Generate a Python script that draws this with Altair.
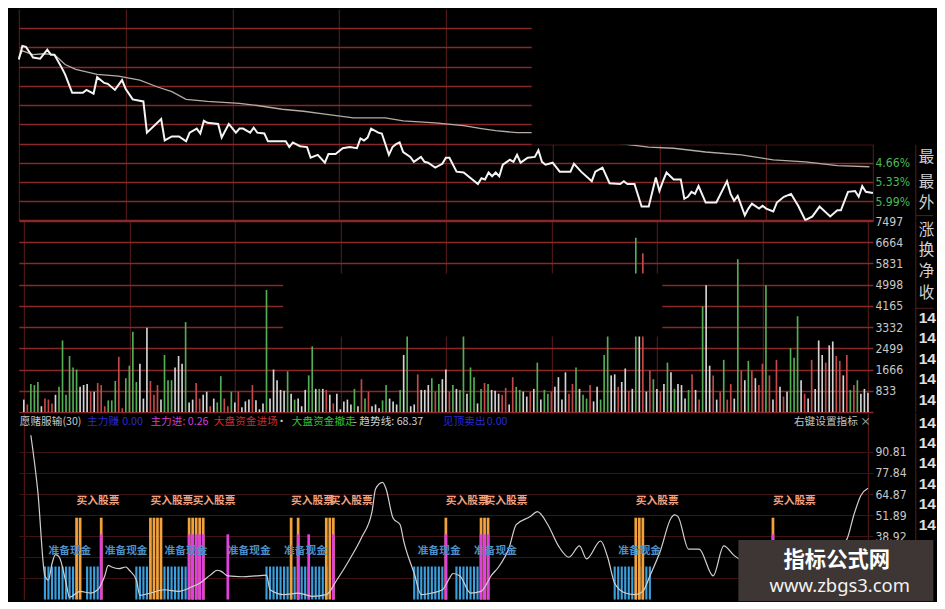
import altair as alt
import pandas as pd

SX, SY = 0.975, 0.97
CJK = "Noto Sans CJK SC"
NARROW = "DejaVu Sans Condensed, Liberation Sans Narrow, Liberation Sans"

# ---------------- data ----------------
PRICE_MIN = [0,1,2,4,6,8,9,10,12,13,15,18,19,21,22,24,25,27,29,30,32,35,36,40,41,43,45,47,48,50,
             51,52,53,56,57,59,61,62,63,65,66,67,69,70,75,76,77,79,81,82,84,86,87,89,91,93,95,96,97,98,
             99,101,102,104,105,106,107,108,110,111,113,114,115,117,119,120,121,123,125,129,130,131,132,133,134,135,136,138,139,140,
             141,143,145,146,147,148,150,152,155,156,158,161,162,164,166,169,170,171,173,175,177,179,180,181,182,184,186,187,188,189,
             190,191,193,196,199,200,201,202,204,205,206,208,209,210,212,213,215,217,219,221,223,225,228,230,231,233,235,236,237,238,240]
PRICE_PCT = [-1.09,-0.62,-0.65,-1.02,-1.06,-0.75,-0.92,-0.92,-1.36,-1.60,-2.24,-2.24,-2.14,-2.27,-1.70,-1.90,-1.93,-2.14,-1.80,-2.10,
             -2.47,-2.54,-3.62,-3.15,-3.89,-3.75,-3.75,-3.92,-3.62,-3.48,-3.65,-3.21,-3.28,-3.32,-3.79,-3.32,-3.62,-3.48,-3.48,-3.62,
             -3.45,-3.62,-3.65,-3.92,-3.92,-4.12,-3.96,-4.09,-4.12,-4.49,-4.39,-4.66,-4.36,-4.36,-4.16,-4.12,-4.16,-3.82,-3.89,-3.79,
             -3.48,-3.62,-3.65,-4.39,-4.12,-4.02,-3.96,-4.29,-4.46,-4.63,-4.46,-4.63,-4.66,-4.83,-4.70,-4.49,-4.49,-4.97,-5.00,-5.40,
             -5.20,-5.24,-5.00,-5.13,-5.00,-5.13,-4.73,-4.56,-4.63,-4.39,-4.66,-4.49,-4.46,-4.23,-4.63,-4.73,-4.66,-4.97,-4.97,-4.70,
             -4.97,-5.30,-4.97,-4.83,-5.37,-5.40,-5.30,-5.40,-5.40,-6.18,-6.18,-5.17,-5.64,-5.30,-5.00,-5.24,-5.24,-5.91,-5.84,-5.67,
             -5.74,-5.47,-6.04,-6.04,-5.30,-5.74,-5.98,-5.81,-6.48,-6.25,-6.08,-6.25,-6.15,-6.25,-6.35,-6.04,-5.84,-5.74,-6.15,-6.65,
             -6.52,-6.18,-6.52,-6.31,-6.31,-5.67,-5.64,-5.84,-5.47,-5.67,-5.71]

MA_MIN = [0,1,4,7,10,13,16,22,28,34,39,43,47,53,62,67,74,80,86,94,103,108,117,125,130,134,140,144,
          177,184,193,203,212,221,230,239]
MA_PCT = [-1.02,-0.79,-0.92,-0.89,-0.92,-1.26,-1.43,-1.60,-1.66,-1.80,-2.04,-2.20,-2.47,-2.54,-2.61,-2.68,-2.81,-2.88,
          -2.98,-3.11,-3.11,-3.21,-3.28,-3.38,-3.48,-3.55,-3.62,-3.62,-4.12,-4.16,-4.29,-4.39,-4.56,-4.63,-4.76,-4.80]

VOL = [490,300,1100,1060,1180,230,530,490,340,680,
       990,2810,680,2200,1750,1670,990,1060,1100,800,
       800,1140,1060,230,460,460,1220,2170,150,1330,
       1820,3150,1180,1900,530,3310,1220,680,1060,490,
       2240,1250,1250,1750,2200,1900,3530,380,490,1140,
       530,680,800,230,530,380,1410,530,230,800,
       380,800,190,420,490,1060,460,110,340,4790,
       530,1670,1250,870,840,1600,720,490,530,230,
       870,1440,2580,910,910,910,870,680,340,720,
       110,420,490,300,910,230,1290,530,800,230,
       300,150,460,1060,530,420,300,870,2240,3000,
       230,300,1480,870,870,1060,1330,800,1100,1290,
       1670,
       800,1060,910,870,3000,720,1750,1370,340,910,
       1140,1100,870,840,720,680,950,300,1370,990,
       870,800,610,800,910,1940,490,870,720,800,
       990,1370,490,1560,720,1100,1750,910,680,530,
       1060,420,990,490,2240,3000,1440,1480,990,1180,
       1710,840,910,6840,3000,6230,800,1630,1290,910,
       800,1100,1940,1560,910,1100,1060,530,870,1480,
       870,490,4140,4980,1820,1440,490,800,2050,490,
       1100,530,6000,1630,1250,2010,1630,1330,1060,1900,
       4980,1440,490,2050,990,610,800,2510,2130,3760,
       1250,720,530,2050,910,2810,2240,1940,2620,2770,
       2200,2010,1440,2240,870,1060,1250,720,910,760]
VOL_COLOR = ("wrgggwrrrw" "ggggggwwwr" "wrrrgggrrg" "gggwwwrrrw" "gggwwwgwwr" "rwwrwggrrg"
             "wrwwwrwwwg" "wwwwwgwgww" "wggwgwrwrw" "wwwwgwrgrw" "wwggwwwgwg" "wwrwwwgrgw" "w"
             "rgwggwggwg" "rgwwwrrwrg" "gwwrwgwggr" "wwwwrrgwgg" "rwwgggwwrw" "wrwgwrwrgw"
             "rwgwgwwwgr" "wrgwwrwrgr" "rwgrwgrwrr" "grwrwrwggg" "wrwrwwwrww" "rrwrgrgwww")

IND_MIN = [2,4,6,7,8,9,10,12,13,16,19,21,23,24,25,27,29,30,32,33,36,40,44,48,50,53,55,56,58,62,
           66,69,70,74,78,82,86,89,93,96,99,100,102,103,105,107,108,111,113,116,119,121,122,124,127,130,133,135,138,140,
           144,146,149,152,155,158,160,164,166,168,171,174,176,178,181,184,185,186,189,192,196,199,202,210,218,226,234,236,238,240]
IND_VAL = [101,66,14.5,12,22,27.6,26.4,10.3,1.4,5,4,6,14.5,21,20,19,20,18,12,2.5,4,6,5,8,10,15,18,17.5,14.5,14,
           14.5,15,6,3,4,2,3,12,26,38,54,68,72,68,50,46,36,16,3,4,6,13,16,14.5,4,5,15,20,32,46,
           51,54,46,33,26,33,25,36,26,10,4,3,5,14.5,30,50,52,51,31,31,14.5,33,27,18,12,22,37,52,64,68.37]

CASH_SPANS = [(6, 14), (18, 21), (32, 35), (40, 46), (69, 86), (111, 119), (123, 129), (168, 178)]
CASH_LEVEL = 20.3
ORANGE_MIN = [15,16,22,36,37,38,39,47,48,49,50,51,76,78,86,87,88,120,130,131,132,174,175,176,213]
ORANGE_LEVEL = 50.3
MAGENTA_MIN = [22,47,48,49,50,51,58,78,81,88,120,130,131,132,213]
MAGENTA_LEVEL = 40.1
BUY_MIN = [15,36,48,76,87,120,131,174,213]
BUY_LEVEL = 60.3
CASH_LABEL_MIN = [7,23,40,58,74,112,128,169]
CASH_LABEL_LEVEL = 30

X_TICKS = [0,30,60,90,120,150,180,210,240]
P_TICKS = [0,-0.666,-1.332,-1.998,-2.664,-3.33,-3.996,-4.662,-5.328,-5.994,-6.66]
V_TICKS = [0,833,1666,2499,3332,4165,4998,5831,6664,7497]
I_TICKS = [12.97,25.95,38.92,51.89,64.87,77.84,90.81]

# ---------------- tables ----------------
price_df = pd.DataFrame({"m": PRICE_MIN, "v": PRICE_PCT})
ma_df = pd.DataFrame({"m": MA_MIN, "v": MA_PCT})
vol_df = pd.DataFrame({"m": list(range(len(VOL))), "v": VOL, "c": list(VOL_COLOR)[:len(VOL)]})
ind_df = pd.DataFrame({"m": IND_MIN, "v": IND_VAL})
cash_m = [m for a, b in CASH_SPANS for m in range(a, b + 1)]
cash_df = pd.DataFrame({"m": cash_m, "v": [CASH_LEVEL] * len(cash_m)})
orange_df = pd.DataFrame({"m": ORANGE_MIN, "v": [ORANGE_LEVEL] * len(ORANGE_MIN)})
mag_df = pd.DataFrame({"m": MAGENTA_MIN, "v": [MAGENTA_LEVEL] * len(MAGENTA_MIN)})
buy_df = pd.DataFrame({"m": BUY_MIN, "v": [BUY_LEVEL] * len(BUY_MIN)})
cashl_df = pd.DataFrame({"m": CASH_LABEL_MIN, "v": [CASH_LABEL_LEVEL] * len(CASH_LABEL_MIN)})
ONE = pd.DataFrame({"k": [0]})

# ---------------- layout ----------------
W = 876 * SX
H_P = 218 * SY
H_V = 197 * SY
H_I = 192.3 * SY
HCOL = "#8a2828"
VCOL = "#5e1c1c"
ICOL = "#3e1414"
SEP = "#5c1c1c"
LBL = "#c8c8c8"

xs = alt.Scale(domain=[0, 240], nice=False, zero=False)


def x_enc(vals, color):
    return alt.X("m:Q", scale=xs, axis=alt.Axis(values=vals, grid=True, gridColor=color, gridWidth=1,
                                                labels=False, ticks=False, domain=False, title=None))


def y_axis(vals, color, width, expr, lcolor):
    return alt.Axis(orient="right", values=vals, grid=True, gridColor=color, gridWidth=width,
                    ticks=False, domain=False, title=None, labelExpr=expr, labelColor=lcolor,
                    labelFont=NARROW, labelFontSize=12.5 * SY, labelPadding=2, labelOverlap=False,
                    labelBaseline="middle")


def rect(x0, x1, y0, y1, top, color):
    return alt.Chart(ONE).mark_rect(color=color).encode(
        x=alt.value((x0 - 7) * SX), x2=alt.value((x1 - 7) * SX),
        y=alt.value((y0 - top) * SY), y2=alt.value((y1 - top) * SY))


def txt(s, x, y, top, color, size, font=CJK, weight="normal", align="left"):
    return alt.Chart(ONE).mark_text(text=s, color=color, fontSize=size, font=font, fontWeight=weight,
                                    align=align, baseline="middle").encode(
        x=alt.value((x - 7) * SX), y=alt.value((y - top) * SY))


def vrule(x, y0, y1, top):
    return alt.Chart(ONE).mark_rule(color=SEP, strokeWidth=1).encode(
        x=alt.value((x - 7) * SX), y=alt.value((y0 - top) * SY), y2=alt.value((y1 - top) * SY))


def hrule(x0, x1, y, top):
    return alt.Chart(ONE).mark_rule(color=SEP, strokeWidth=1).encode(
        x=alt.value((x0 - 7) * SX), x2=alt.value((x1 - 7) * SX), y=alt.value((y - top) * SY))


# ---------------- price panel ----------------
p_y = alt.Y("v:Q", scale=alt.Scale(domain=[-6.66, 0.66], nice=False, zero=False),
            axis=y_axis(P_TICKS, HCOL, 1.3,
                        "(datum.value < -4.5 && datum.value > -6.3) ? format(abs(datum.value), '.2f') + '%' : ''",
                        "#4cbb55"))
p_x = x_enc(X_TICKS, VCOL)
ma_line = alt.Chart(ma_df).mark_line(color="#b4aca4", strokeWidth=1.3).encode(x=p_x, y=p_y)
price_line = alt.Chart(price_df).mark_line(color="#f4f4f4", strokeWidth=2).encode(x=p_x, y=p_y)
p_layers = [ma_line, price_line, rect(533, 945, -1, 140, 0, "#000000"),
            vrule(927, 140, 218, 0), hrule(927, 945, 213, 0)]
for s, y in [("最", 153), ("最", 178), ("外", 200)]:
    p_layers.append(txt(s, 930, y, 0, "#d0d0d0", 16 * SY))
price = alt.layer(*p_layers).properties(width=W, height=H_P)

# ---------------- volume panel ----------------
v_y = alt.Y("v:Q", scale=alt.Scale(domain=[0, 7497], nice=False),
            axis=y_axis(V_TICKS, HCOL, 1.3, "datum.value > 0 ? format(datum.value, 'd') : ''", LBL))
bars = alt.Chart(vol_df).mark_bar(size=1.7 * SX).encode(
    x=x_enc(X_TICKS, VCOL), y=v_y,
    color=alt.Color("c:N", scale=alt.Scale(domain=["g", "w", "r"], range=["#55ad55", "#d4d4d4", "#c44a4a"]),
                    legend=None))
v_layers = [bars, rect(278, 667, 272, 337, 218, "#000000"), vrule(927, 218, 415, 218), hrule(927, 945, 308, 218)]
for s, y in [("涨", 227), ("换", 248), ("净", 270), ("收", 292)]:
    v_layers.append(txt(s, 930, y, 218, "#d0d0d0", 16 * SY))
for y in [318, 339, 360, 381, 403]:
    v_layers.append(txt("14", 930, y, 218, "#e0e0e0", 16 * SY, font="Liberation Sans", weight="bold"))
volume = alt.layer(*v_layers).properties(width=W, height=H_V)

# ---------------- indicator panel ----------------
TOP_I = 415
i_y = alt.Y("v:Q", scale=alt.Scale(domain=[0, 114.7], nice=False),
            axis=y_axis(I_TICKS, ICOL, 1, "datum.value > 30 ? format(datum.value, '.2f') : ''", LBL))
i_x = x_enc([0, 240], VCOL)
cash_bars = alt.Chart(cash_df).mark_bar(size=2.2 * SX, color="#3a9fdc").encode(x=i_x, y=i_y)
orange_bars = alt.Chart(orange_df).mark_bar(size=2.8 * SX, color="#f2a23c").encode(x=i_x, y=i_y)
mag_bars = alt.Chart(mag_df).mark_bar(size=2.8 * SX, color="#e040e0").encode(x=i_x, y=i_y)
trend = alt.Chart(ind_df).mark_line(color="#d0d0d0", strokeWidth=1.2, interpolate="monotone").encode(x=i_x, y=i_y)
buy_txt = alt.Chart(buy_df).mark_text(text="买入股票", color="#f0a07e", fontSize=11 * SX, font=CJK,
                                      fontWeight="bold", align="left", baseline="middle").encode(x=i_x, y=i_y)
cash_txt = alt.Chart(cashl_df).mark_text(text="准备现金", color="#4d8fc6", fontSize=11 * SX, font=CJK,
                                         fontWeight="bold", align="left", baseline="middle").encode(x=i_x, y=i_y)
i_layers = [cash_bars, orange_bars, mag_bars, trend, buy_txt, cash_txt]

BLUE_T = "#2a2ad0"
HEADER = [("愿赌服输(30)", 8, "#c8c8c8"), ("主力赚", 77, BLUE_T), ("0.00", 113, BLUE_T),
          ("主力进: 0.26", 142, "#d23fd2"), ("大盘资金进场", 207, "#d42a2a"), ("·", 271, "#c8c8c8"),
          ("大盘资金撤走", 287, "#35c035"), ("- 趋势线: 68.37", 350, "#d0d0d0"),
          ("见顶卖出", 442, BLUE_T), ("0.00", 487, BLUE_T), ("右键设置指标 ×", 802, "#c0c0c0")]
for s, x, c in HEADER:
    i_layers.append(txt(s, x, 424, TOP_I, c, 11 * SY))
i_layers.append(vrule(927, 415, 609, TOP_I))
for y in [425, 446, 467, 488, 509, 530]:
    i_layers.append(txt("14", 930, y, TOP_I, "#e0e0e0", 16 * SY, font="Liberation Sans", weight="bold"))
i_layers.append(rect(745, 945, 546, 609, TOP_I, "#3e3535"))
i_layers.append(txt("指标公式网", 846, 568, TOP_I, "#ffffff", 22 * SY, weight="bold", align="center"))
i_layers.append(txt("www.zbgs3.com", 849, 593, TOP_I, "#f2f2f2", 19 * SY, font="Noto Sans", align="center"))
indicator = alt.layer(*i_layers).properties(width=W, height=H_I)

chart = alt.vconcat(price, volume, indicator, spacing=0, bounds="flush").properties(
    background="#000000", padding={"left": 7 * SX, "top": 0, "right": 0, "bottom": 0}
).configure_view(stroke=None)

chart.save("out.html", embed_options={"renderer": "svg", "actions": False})
